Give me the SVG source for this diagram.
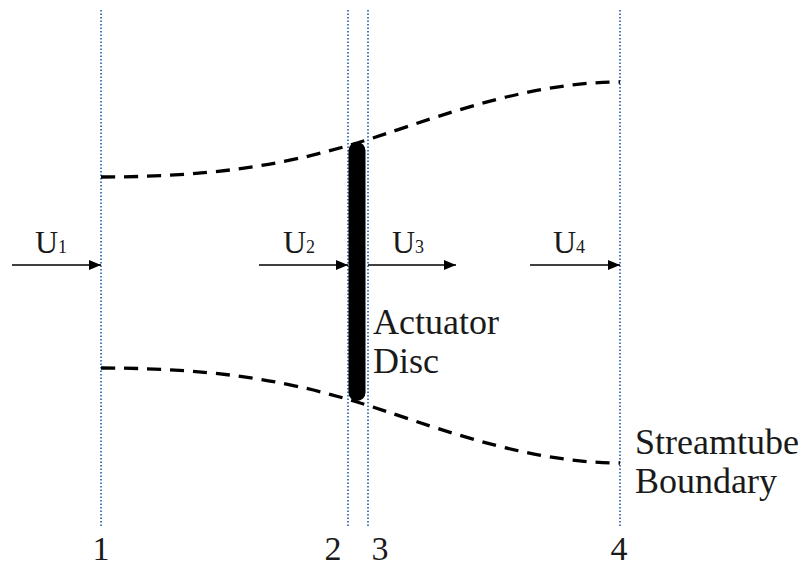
<svg xmlns="http://www.w3.org/2000/svg" width="805" height="566" viewBox="0 0 805 566">
<style>
.sec{stroke:#4a7cc4;stroke-width:2;stroke-dasharray:1.5 2;fill:none}
.st{stroke:#000;stroke-width:3.3;stroke-dasharray:14 9;fill:none}
.ar{stroke:#000;stroke-width:1.4;fill:none;marker-end:url(#ah)}
.lb{font-size:32px}
.sub{font-size:18px}
.tx{font-size:36px}
.num{font-size:34px}
</style>
<defs>
<marker id="ah" viewBox="0 0 12 10" refX="12" refY="5" markerWidth="12" markerHeight="10" markerUnits="userSpaceOnUse" orient="auto">
<path d="M0,0 L12,5 L0,10 Z" fill="#000"/>
</marker>
</defs>
<g id="sections">
<line class="sec" x1="101" y1="10" x2="101" y2="527"/>
<line class="sec" x1="348" y1="10" x2="348" y2="527"/>
<line class="sec" x1="368" y1="10" x2="368" y2="527"/>
<line class="sec" x1="620" y1="10" x2="620" y2="527"/>
</g>
<g id="streamtube">
<path class="st" d="M101,177 C230,177 300,160 357,143 C420,124 520,82 620,82"/>
<path class="st" d="M101,368 C230,368 300,385 357,402 C420,421 520,463 620,463"/>
</g>
<g id="disc">
<rect x="348.5" y="142" width="17" height="259" rx="8.5" fill="#000"/>
</g>
<g id="connectors">
<line class="ar" x1="12" y1="265" x2="101" y2="265"/>
<line class="ar" x1="259" y1="265" x2="348" y2="265"/>
<line class="ar" x1="368" y1="265" x2="456" y2="265"/>
<line class="ar" x1="530" y1="265" x2="620" y2="265"/>
</g>
<g id="labels" font-family="'Liberation Serif', 'Times New Roman', serif" fill="#1a1a1a">
<text x="35" y="253"><tspan class="lb">U</tspan><tspan class="sub">1</tspan></text>
<text x="283" y="253"><tspan class="lb">U</tspan><tspan class="sub">2</tspan></text>
<text x="392" y="253"><tspan class="lb">U</tspan><tspan class="sub">3</tspan></text>
<text x="553" y="253"><tspan class="lb">U</tspan><tspan class="sub">4</tspan></text>
<text class="tx" x="373" y="334">Actuator</text>
<text class="tx" x="373" y="373">Disc</text>
<text class="tx" x="635" y="454">Streamtube</text>
<text class="tx" x="635" y="493">Boundary</text>
<text class="num" x="101" y="560" text-anchor="middle">1</text>
<text class="num" x="333" y="560" text-anchor="middle">2</text>
<text class="num" x="380" y="560" text-anchor="middle">3</text>
<text class="num" x="619" y="560" text-anchor="middle">4</text>
</g>
</svg>
